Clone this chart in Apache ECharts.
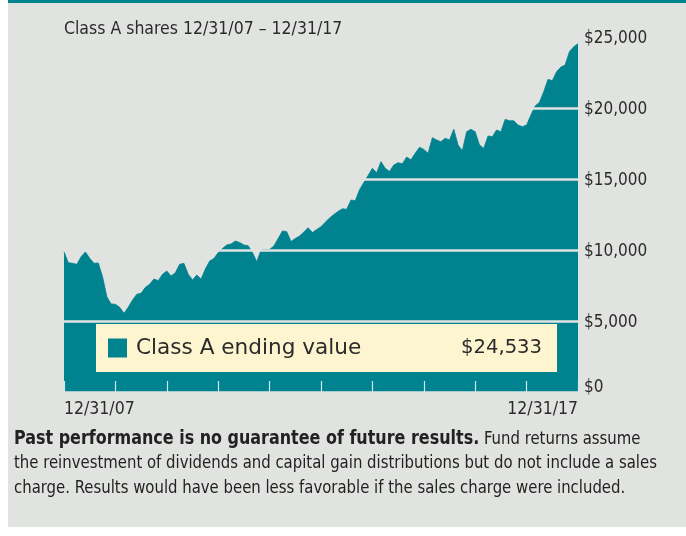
<!DOCTYPE html>
<html>
<head>
<meta charset="utf-8">
<title>Class A shares growth</title>
<script src="https://cdn.jsdelivr.net/npm/echarts@6/dist/echarts.min.js"></script>
<style>
  html, body { margin: 0; padding: 0; background: #ffffff; }
  #chart { width: 686px; height: 536px; }
</style>
</head>
<body>
<div id="chart"></div>
<script>
// Month-end value of a hypothetical investment, 12/31/07 through 12/31/17 (121 months)
const classAValues = [
  9880, 9105, 9060, 8990, 9530, 9860, 9415, 9060, 9085, 8120, 6710, 6200,
  6175, 5965, 5540, 5965, 6480, 6880, 6950, 7370, 7585, 7960, 7840, 8290,
  8520, 8170, 8400, 8990, 9060, 8290, 7890, 8240, 7950, 8660, 9220, 9400,
  9820, 10105, 10350, 10420, 10630, 10530, 10350, 10300, 9820, 9175, 10000, 10035,
  10035, 10280, 10810, 11340, 11290, 10600, 10810, 10985, 11270, 11570, 11230, 11445,
  11640, 11950, 12255, 12500, 12720, 12900, 12865, 13520, 13470, 14250, 14750, 15250,
  15750, 15445, 16220, 15750, 15530, 15985, 16150, 16070, 16550, 16350, 16810, 17230,
  17080, 16810, 17910, 17745, 17625, 17865, 17745, 18500, 17395, 16990, 18330, 18500,
  18330, 17395, 17160, 18030, 17980, 18450, 18330, 19205, 19105, 19105, 18800, 18685,
  18800, 19500, 20140, 20400, 21150, 22020, 21920, 22555, 22880, 23030, 23965, 24315,
  24533
];

// Labels shown under the first and last year ticks
const startLabel = '12/31/07';
const endLabel = '12/31/17';

// Dollar axis ticks
const yTicks = [0, 5000, 10000, 15000, 20000, 25000];

const seriesName = 'Class A ending value';
const titleText = 'Class A shares 12/31/07 \u2013 12/31/17';

const TEAL = '#00828f';
const PANEL = '#e1e3e0';
const INK = '#2b2b2b';
const NARROW = '"Liberation Sans Narrow", "DejaVu Sans Condensed", sans-serif';
const LEGEND_FONT = '"DejaVu Sans", "Noto Sans", sans-serif';

const money = v => '$' + v.toLocaleString('en-US');
const lastMonth = classAValues.length - 1;
const endingValue = classAValues[lastMonth];

const chart = echarts.init(document.getElementById('chart'), null, { renderer: 'canvas' });

chart.setOption({
  animation: false,
  backgroundColor: '#ffffff',
  graphic: [
    { type: 'rect', z: -10, shape: { x: 8, y: 0, width: 678, height: 527 }, style: { fill: PANEL } },
    { type: 'rect', z: -9, shape: { x: 8, y: 0, width: 678, height: 3 }, style: { fill: TEAL } },
    {
      // disclaimer under the chart, set in a condensed width
      type: 'text', x: 14, y: 427, scaleX: 0.92, z: 10,
      style: {
        text: '{b|Past performance is no guarantee of future results.} Fund returns assume\n' +
              'the reinvestment of dividends and capital gain distributions but do not include a sales\n' +
              'charge. Results would have been less favorable if the sales charge were included.',
        font: '18px ' + NARROW,
        fill: '#222222',
        lineHeight: 24.5,
        rich: {
          b: { fontWeight: 'bold', fontSize: 19.3, fontFamily: NARROW, fill: '#222222', lineHeight: 24.5 }
        }
      }
    }
  ],
  title: {
    text: titleText,
    left: 59,
    top: 15,
    textStyle: { fontFamily: NARROW, fontSize: 17.5, fontWeight: 'normal', color: INK }
  },
  legend: {
    left: 96,
    top: 324,
    orient: 'horizontal',
    padding: [13, 15, 13, 12],
    backgroundColor: '#fdf5d0',
    itemWidth: 19,
    itemHeight: 19,
    icon: 'rect',
    selectedMode: false,
    data: [seriesName],
    formatter: name => '{n|' + name + '}{v|' + money(endingValue) + '}',
    textStyle: {
      rich: {
        n: { width: 325, padding: [0, 0, 0, 4], fontSize: 21.6, fontFamily: LEGEND_FONT, color: INK, lineHeight: 20 },
        v: { fontSize: 19.6, fontFamily: LEGEND_FONT, color: INK, lineHeight: 20 }
      }
    }
  },
  grid: { left: 64, right: 108, top: 37, bottom: 144, containLabel: false },
  xAxis: {
    type: 'value',
    min: 0,
    max: lastMonth,
    interval: 12,
    z: 5,
    axisLine: { show: false },
    splitLine: { show: false },
    axisTick: { show: true, inside: true, length: 11, lineStyle: { color: '#d5e6e8', width: 1.2 } },
    axisLabel: {
      margin: 8,
      fontFamily: NARROW,
      fontSize: 17.5,
      color: INK,
      alignMinLabel: 'left',
      alignMaxLabel: 'right',
      formatter: v => (v === 0 ? startLabel : v === lastMonth ? endLabel : '')
    }
  },
  yAxis: {
    type: 'value',
    position: 'right',
    min: yTicks[0],
    max: yTicks[yTicks.length - 1],
    interval: yTicks[1] - yTicks[0],
    z: 5,
    axisLine: { show: false },
    axisTick: { show: false },
    // same tone as the panel, so the rules only show across the filled area
    splitLine: { show: true, lineStyle: { color: PANEL, width: 2.5 } },
    axisLabel: {
      margin: 6,
      fontFamily: NARROW,
      fontSize: 17,
      color: INK,
      formatter: v => (v === 0 ? '{z|$0}' : '{n|' + money(v) + '}'),
      rich: {
        z: { fontFamily: NARROW, fontSize: 17, color: INK, padding: [0, 0, 8, 0] },
        n: { fontFamily: NARROW, fontSize: 17, color: INK, padding: [3, 0, 0, 0] }
      }
    }
  },
  series: [{
    name: seriesName,
    type: 'line',
    data: classAValues.map((v, i) => [i, v]),
    showSymbol: false,
    symbol: 'none',
    itemStyle: { color: TEAL },
    lineStyle: { width: 0.8, color: TEAL },
    areaStyle: { color: TEAL, opacity: 1 },
    z: 2
  }]
});
</script>
</body>
</html>
